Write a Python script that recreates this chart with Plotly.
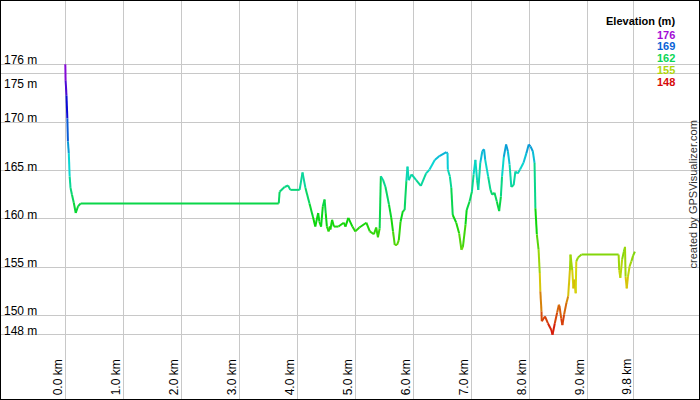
import colorsys
import plotly.graph_objects as go
from plotly.subplots import make_subplots

# elevation profile (distance in km, elevation in m)
dist_km = [0.0, 0.005, 0.02, 0.035, 0.045, 0.06, 0.075, 0.09, 0.115, 0.145, 0.18, 0.22, 0.265,
           3.68, 3.695, 3.78, 3.84, 3.88, 4.04, 4.09, 4.14, 4.21, 4.27, 4.31, 4.36, 4.38, 4.41,
           4.44, 4.47, 4.49, 4.51, 4.54, 4.56, 4.57, 4.60, 4.63, 4.71, 4.80, 4.83, 4.88, 4.95,
           5.00, 5.07, 5.19, 5.25, 5.32, 5.36, 5.39, 5.42, 5.44, 5.48, 5.52, 5.58, 5.62, 5.65,
           5.68, 5.72, 5.75, 5.78, 5.82, 5.85, 5.88, 5.90, 5.92, 5.97, 6.05, 6.13, 6.22, 6.28,
           6.37, 6.45, 6.57, 6.59, 6.595, 6.63, 6.655, 6.68, 6.74, 6.79, 6.83, 6.855, 6.90, 6.92,
           6.97, 7.01, 7.04, 7.07, 7.10, 7.12, 7.155, 7.19, 7.22, 7.24, 7.29, 7.33, 7.36, 7.40,
           7.44, 7.48, 7.51, 7.53, 7.56, 7.60, 7.63, 7.66, 7.69, 7.73, 7.76, 7.80, 7.84, 7.90,
           7.95, 7.99, 8.02, 8.06, 8.09, 8.105, 8.13, 8.16, 8.18, 8.19, 8.21, 8.215, 8.27, 8.32,
           8.38, 8.40, 8.44, 8.48, 8.51, 8.52, 8.55, 8.57, 8.60, 8.64, 8.67, 8.70, 8.71, 8.74,
           8.76, 8.78, 8.80, 8.81, 8.84, 8.90, 9.54, 9.55, 9.57, 9.60, 9.63, 9.65, 9.66, 9.68,
           9.70, 9.73, 9.76, 9.79, 9.82]
elev_m = [176.0, 174.3, 172.8, 170.4, 168.0, 166.8, 164.4, 163.2, 162.5, 161.7, 160.6, 161.3, 161.6,
          161.6, 162.8, 163.3, 163.45, 163.0, 163.0, 164.8, 163.2, 161.6, 160.2, 159.2, 160.6, 159.7, 159.2,
          161.3, 162.0, 160.6, 159.2, 158.7, 159.2, 158.9, 159.9, 159.2, 159.2, 159.6, 159.2, 160.1, 159.2,
          158.7, 159.1, 159.6, 158.7, 158.4, 159.1, 158.1, 159.0, 164.4, 164.0, 163.3, 161.5, 160.1, 158.7,
          157.3, 157.3, 157.8, 159.7, 160.8, 160.9, 163.9, 165.4, 164.0, 164.6, 164.0, 163.4, 164.7, 165.1,
          166.1, 166.5, 166.9, 166.8, 165.1, 164.4, 163.2, 160.4, 159.6, 158.5, 156.8, 157.1, 159.4, 160.9,
          161.8, 162.8, 164.6, 166.1, 164.0, 163.0, 165.8, 167.0, 167.2, 166.1, 164.4, 163.0, 162.5, 162.7,
          161.8, 160.8, 162.3, 164.4, 166.4, 167.7, 167.0, 165.6, 163.3, 163.5, 164.9, 164.7, 165.1, 165.8,
          166.8, 167.7, 167.5, 167.0, 165.8, 161.1, 158.4, 156.8, 154.4, 152.5, 150.4, 149.4, 149.9, 149.2,
          148.5, 148.0, 149.2, 150.3, 151.1, 151.0, 149.7, 149.0, 150.1, 151.3, 152.0, 154.7, 156.3, 154.7,
          152.8, 153.7, 152.3, 155.6, 156.0, 156.3, 156.3, 154.7, 153.9, 155.8, 156.6, 157.1, 154.0, 152.8,
          154.0, 155.1, 155.6, 156.2, 156.6]

x_ticks = [0, 1, 2, 3, 4, 5, 6, 7, 8, 9, 9.8]
x_tick_labels = ["0.0 km", "1.0 km", "2.0 km", "3.0 km", "4.0 km", "5.0 km", "6.0 km",
                 "7.0 km", "8.0 km", "9.0 km", "9.8 km"]
y_ticks = [148, 150, 155, 160, 165, 170, 175, 176]
y_tick_labels = ["148 m", "150 m", "155 m", "160 m", "165 m", "170 m", "175 m", "176 m"]
legend_vals = [176, 169, 162, 155, 148]

e_min, e_max = 148, 176


def elev_color(e):
    # hue runs from red (low) to purple (high)
    t = min(max((e - e_min) / (e_max - e_min), 0), 1)
    r, g, b = colorsys.hsv_to_rgb(t * 285 / 360, 0.95, 0.84)
    return "rgb(%d,%d,%d)" % (r * 255, g * 255, b * 255)


fig = make_subplots()

# one short trace per segment so the line changes colour with elevation
for i in range(len(dist_km) - 1):
    mid = (elev_m[i] + elev_m[i + 1]) / 2
    fig.add_trace(go.Scatter(x=dist_km[i:i + 2], y=elev_m[i:i + 2], mode="lines",
                             line=dict(color=elev_color(mid), width=2),
                             hoverinfo="skip", showlegend=False))

grid = "#c8c8c8"
fig.update_xaxes(range=[-1.126, 10.943], tickvals=x_ticks, showticklabels=False,
                 showgrid=True, gridcolor=grid, gridwidth=1, zeroline=False, fixedrange=True)
fig.update_yaxes(range=[141.25, 182.65], tickvals=y_ticks, showticklabels=False,
                 showgrid=True, gridcolor=grid, gridwidth=1, zeroline=False, fixedrange=True)

font = "Liberation Sans, Arial, sans-serif"
annos = []
for v, lab in zip(y_ticks, y_tick_labels):
    # a label with another tick just above it goes under its line instead
    crowded = any(0 < w - v < 2 for w in y_ticks)
    annos.append(dict(x=0, xref="paper", xanchor="left", xshift=2, y=v, yref="y",
                      yanchor="top" if crowded else "bottom", yshift=-1 if crowded else -5,
                      text=lab, showarrow=False,
                      font=dict(family=font, size=12, color="#000")))
for v, lab in zip(x_ticks, x_tick_labels):
    annos.append(dict(x=v, xref="x", xanchor="center", xshift=-7, y=0, yref="paper",
                      yanchor="bottom", yshift=3, text=lab, textangle=-90, showarrow=False,
                      font=dict(family=font, size=12, color="#000")))

# legend block top right
annos.append(dict(x=677 / 700, xref="paper", xanchor="right", y=1 - 21.5 / 400, yref="paper",
                  yanchor="middle", text="<b>Elevation (m)</b>", showarrow=False,
                  font=dict(family=font, size=11, color="#000")))
for k, v in enumerate(legend_vals):
    annos.append(dict(x=677 / 700, xref="paper", xanchor="right", y=1 - (34.7 + 11.7 * k) / 400,
                      yref="paper", yanchor="middle", text="<b>%d</b>" % v, showarrow=False,
                      font=dict(family=font, size=11, color=elev_color(v))))

annos.append(dict(x=692.5 / 700, xref="paper", xanchor="center", y=1 - 195 / 400, yref="paper",
                  yanchor="middle", text="created by GPSVisualizer.com", textangle=-90,
                  showarrow=False, font=dict(family=font, size=11, color="#333")))

fig.update_layout(width=700, height=400, margin=dict(l=0, r=0, t=0, b=0),
                  plot_bgcolor="white", paper_bgcolor="white", showlegend=False,
                  annotations=annos,
                  shapes=[dict(type="rect", xref="paper", yref="paper", x0=0, x1=1, y0=0, y1=1,
                               line=dict(color="black", width=2))])

# page body has an 8px default margin; drop it so the chart fills the window
fig.write_html("out.html", config={"displayModeBar": False},
               post_script="document.body.style.margin='0px';")
